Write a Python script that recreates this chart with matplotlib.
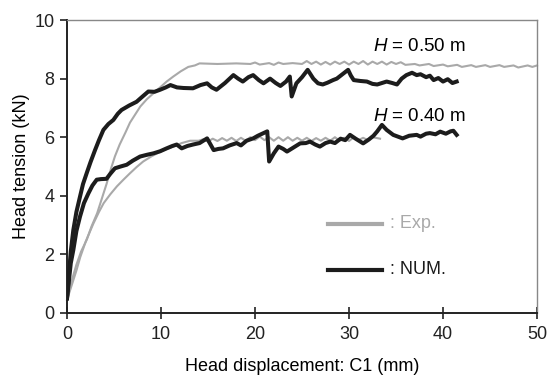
"""
Head tension vs head displacement: experiment vs numerical (H = 0.40 / 0.50 m).
"""

import matplotlib
matplotlib.use("Agg")
import matplotlib.pyplot as plt

plt.rcParams.update({
    "font.family": "Liberation Sans",
    "font.size": 13,
    "mathtext.fontset": "custom",
    "mathtext.rm": "Liberation Sans",
    "mathtext.it": "Liberation Sans:italic",
})

EXP_COLOR = "#a9a9a9"
NUM_COLOR = "#1c1c1c"

# Experiment, H = 0.50 m
exp50_x = [0, 0.5, 1.0, 1.5, 2.1, 2.6, 3.2, 3.7, 4.2, 4.7, 5.1, 5.6, 6.2, 6.7, 7.2, 7.8,
           8.5, 9.2, 9.9, 10.6, 11.3, 12.1, 12.9, 13.6, 14.1, 16, 18, 19.5, 20, 20.5,
           21.5, 22, 22.5, 23, 24, 25, 25.5, 26, 26.5, 27, 27.5, 28, 28.5, 29, 29.5,
           30, 30.5, 31, 31.5, 32, 32.5, 33, 33.5, 34, 34.5, 35, 35.5, 36, 37, 37.5,
           38.5, 39, 40, 40.5, 41.5, 42, 43, 43.5, 44.5, 45, 46, 46.5, 47.5, 48, 49,
           49.5, 50]
exp50_y = [0.45, 1.1, 1.65, 2.1, 2.5, 2.95, 3.4, 3.9, 4.4, 4.95, 5.35, 5.75, 6.15, 6.5,
           6.75, 7.05, 7.3, 7.5, 7.7, 7.9, 8.07, 8.25, 8.4, 8.45, 8.52, 8.5, 8.52, 8.5,
           8.55, 8.48, 8.53, 8.47, 8.55, 8.5, 8.53, 8.5, 8.6, 8.5, 8.58, 8.48, 8.57,
           8.48, 8.58, 8.5, 8.58, 8.48, 8.58, 8.5, 8.6, 8.48, 8.58, 8.5, 8.58, 8.48,
           8.57, 8.5, 8.56, 8.47, 8.5, 8.45, 8.5, 8.43, 8.48, 8.42, 8.47, 8.4, 8.46,
           8.4, 8.46, 8.4, 8.46, 8.4, 8.45, 8.38, 8.45, 8.4, 8.45]

# Experiment, H = 0.40 m
exp40_x = [0, 0.5, 1.0, 1.4, 2.0, 2.8, 3.4, 3.9, 4.6, 5.3, 6.0, 6.7, 7.4, 8.1, 9.0, 9.9,
           10.6, 11.3, 12.2, 13.1, 14, 14.5, 15, 15.5, 16, 16.5, 17, 17.5, 18, 18.5,
           19, 19.5, 20, 20.5, 21, 21.5, 22, 22.5, 23, 23.5, 24, 24.5, 25, 25.5, 26,
           26.5, 27, 27.5, 28, 28.5, 29, 29.5, 30, 30.5, 31, 31.5, 32, 32.5, 33.3]
exp40_y = [0.45, 0.95, 1.45, 1.9, 2.45, 3.05, 3.45, 3.75, 4.05, 4.32, 4.55, 4.77, 4.98,
           5.17, 5.35, 5.5, 5.6, 5.68, 5.8, 5.88, 5.88, 5.93, 5.85, 5.95, 5.87, 5.97,
           5.88, 5.98, 5.87, 5.98, 5.88, 6.0, 5.9, 6.02, 5.9, 6.0, 5.88, 6.0, 5.88, 6.0,
           5.88, 5.98, 5.88, 5.98, 5.87, 5.97, 5.88, 5.98, 5.88, 6.0, 5.88, 5.98, 5.87,
           6.0, 5.9, 5.98, 5.9, 6.0, 5.95]

# Numerical, H = 0.50 m
num50_x = [0, 0.2, 0.4, 0.67, 1.0, 1.38, 1.7, 2.1, 2.5, 2.98, 3.4, 3.87, 4.4, 4.93, 5.4,
           5.8, 6.6, 7.4, 8.0, 8.65, 9.3, 9.9, 10.5, 11.0, 11.7, 12.4, 13.4, 14.2, 14.9,
           15.4, 15.9, 16.8, 17.7, 18.2, 18.7, 19.3, 19.8, 20.4, 20.9, 21.6, 22.2, 22.7,
           23.3, 23.7, 23.9, 24.4, 25.0, 25.6, 26.2, 26.7, 27.2, 27.7, 28.3, 28.7, 29.3,
           29.9, 30.2, 30.5, 31.2, 31.9, 32.5, 33.0, 33.5, 34.0, 34.6, 35.1, 35.6, 36.1,
           36.7, 37.2, 37.6, 38.2, 38.6, 39.0, 39.5, 40.0, 40.5, 41.0, 41.45]
num50_y = [0.5, 1.3, 2.1, 2.83, 3.45, 3.97, 4.4, 4.78, 5.15, 5.56, 5.9, 6.25, 6.45, 6.59,
           6.8, 6.93, 7.08, 7.21, 7.38, 7.56, 7.55, 7.62, 7.7, 7.78, 7.7, 7.68, 7.67,
           7.78, 7.84, 7.7, 7.62, 7.85, 8.12, 8.0, 7.9, 8.05, 8.12, 7.95, 7.84, 8.0,
           7.85, 7.75, 7.9, 8.07, 7.39, 7.84, 8.05, 8.3, 8.0, 7.84, 7.8, 7.86, 7.95,
           8.0, 8.15, 8.3, 8.1, 7.95, 7.92, 7.9, 7.82, 7.8, 7.85, 7.9, 7.85, 7.8, 8.0,
           8.12, 8.2, 8.12, 8.15, 8.05, 8.1, 7.95, 8.02, 7.9, 7.98, 7.85, 7.9]

# Numerical, H = 0.40 m
num40_x = [0, 0.2, 0.4, 0.67, 1.0, 1.38, 1.8, 2.27, 2.7, 3.16, 3.6, 4.2, 4.6, 5.1, 5.7,
           6.35, 7.0, 7.77, 8.5, 9.2, 9.9, 10.6, 11.2, 11.67, 12.2, 12.8, 13.4, 14.1,
           14.9, 15.6, 16.1, 16.6, 17.3, 18.05, 18.5, 19.1, 19.8, 20.3, 20.9, 21.3,
           21.5, 22.0, 22.5, 23.0, 23.4, 24.1, 24.8, 25.4, 25.85, 26.4, 26.9, 27.5,
           28.0, 28.5, 29.1, 29.6, 30.1, 30.7, 31.5, 32.1, 32.6, 33.0, 33.5, 34.0,
           34.7, 35.2, 35.7, 36.4, 37.2, 37.6, 38.2, 38.6, 39.2, 39.7, 40.3, 40.8,
           41.1, 41.45]
num40_y = [0.5, 1.1, 1.7, 2.15, 2.8, 3.29, 3.75, 4.08, 4.35, 4.55, 4.57, 4.58, 4.75,
           4.94, 5.0, 5.06, 5.2, 5.34, 5.4, 5.45, 5.52, 5.62, 5.7, 5.75, 5.62, 5.7,
           5.75, 5.8, 5.96, 5.56, 5.6, 5.62, 5.72, 5.8, 5.72, 5.88, 5.96, 6.05, 6.14,
           6.2, 5.17, 5.45, 5.68, 5.6, 5.51, 5.65, 5.79, 5.8, 5.85, 5.75, 5.68, 5.8,
           5.85, 5.8, 5.95, 5.9, 6.08, 5.95, 5.79, 5.92, 6.05, 6.2, 6.42, 6.25, 6.08,
           6.02, 5.96, 6.05, 6.08, 6.02, 6.12, 6.14, 6.1, 6.19, 6.12, 6.2, 6.22, 6.08]

x_ticks = [0, 10, 20, 30, 40, 50]
y_ticks = [0, 2, 4, 6, 8, 10]

fig = plt.figure(figsize=(5.48, 3.78), dpi=100)
ax = fig.add_axes([0.1223, 0.172, 0.8577, 0.775])

ax.plot(exp50_x, exp50_y, color=EXP_COLOR, lw=1.5, zorder=2, clip_on=False)
ax.plot(exp40_x, exp40_y, color=EXP_COLOR, lw=1.5, zorder=2)
ax.plot(num50_x, num50_y, color=NUM_COLOR, lw=2.9, zorder=3)
ax.plot(num40_x, num40_y, color=NUM_COLOR, lw=2.9, zorder=3)

ax.text(32.6, 9.1, "$H$ = 0.50 m", va="center", ha="left", fontsize=13.5)
ax.text(32.6, 6.7, "$H$ = 0.40 m", va="center", ha="left", fontsize=13.5)

# hand-drawn style legend inside the axes
ax.plot([27.8, 33.5], [3.04, 3.04], color=EXP_COLOR, lw=3)
ax.text(34.4, 3.04, ": Exp.", color=EXP_COLOR, va="center", ha="left", fontsize=13)
ax.plot([27.8, 33.5], [1.47, 1.47], color=NUM_COLOR, lw=3)
ax.text(34.4, 1.47, ": NUM.", color=NUM_COLOR, va="center", ha="left", fontsize=13)

ax.set_xlim(0, 50)
ax.set_ylim(0, 10)
ax.set_xticks(x_ticks)
ax.set_yticks(y_ticks)
ax.tick_params(axis="x", direction="inout", length=9, width=1.2, colors="#222222",
               labelcolor="#222222", pad=5)
ax.tick_params(axis="y", direction="out", length=5, width=1.2, colors="#222222",
               labelcolor="#222222", pad=4)
ax.set_xlabel("Head displacement: C1 (mm)", labelpad=11)
ax.set_ylabel("Head tension (kN)", labelpad=3.5)

for side in ("left", "bottom"):
    ax.spines[side].set_color("#222222")
    ax.spines[side].set_linewidth(1.4)
for side in ("top", "right"):
    ax.spines[side].set_color("#888888")
    ax.spines[side].set_linewidth(1.0)

fig.savefig("out.png", dpi=100)
